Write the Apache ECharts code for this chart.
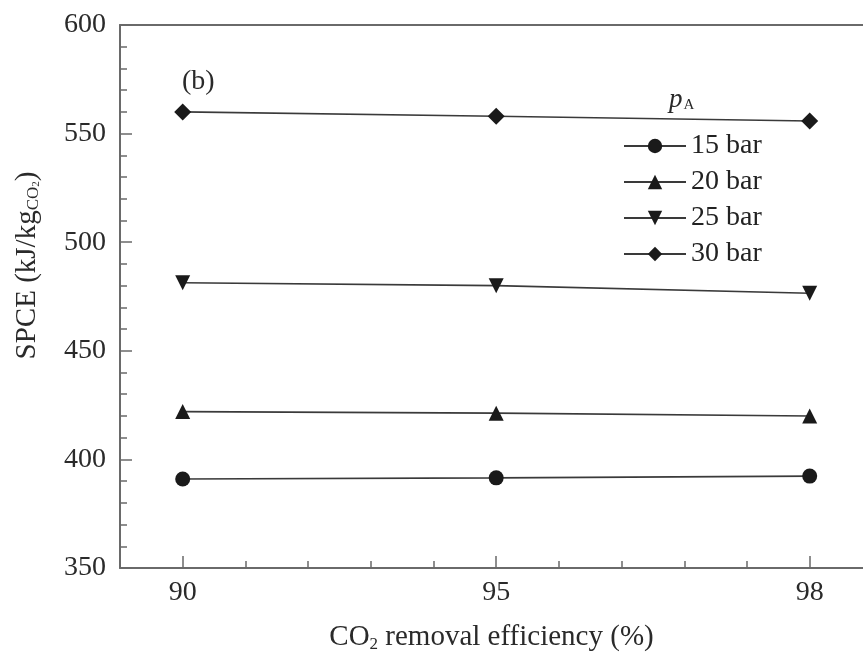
<!DOCTYPE html>
<html>
<head>
<meta charset="utf-8">
<script src="https://cdn.jsdelivr.net/npm/echarts@6/dist/echarts.min.js"></script>
<style>
  html, body { margin: 0; padding: 0; background: #fff; }
  #chart { width: 863px; height: 655px; }
</style>
</head>
<body>
<div id="chart"></div>
<script>
// CO2 removal efficiency categories (%), evenly spaced along the x axis
const efficiency = ['90', '95', '98'];
// SPCE (kJ/kg CO2) for each feed pressure p_A
const spce15 = [391, 391.5, 392.3];
const spce20 = [422, 421.3, 420];
const spce25 = [481.3, 480, 476.5];
const spce30 = [560, 558, 555.8];
const yTicks = [350, 400, 450, 500, 550, 600];

const serif = '"Liberation Serif", "DejaVu Serif", serif';
const ink = '#1a1a1a';
const textInk = '#2a2a2a';
const axisGrey = '#6a6a6a';
const xMin = -0.2, xMax = 2.17;

// minor tick positions: each gap between categories is split into 5
const minorSteps = [];
for (let i = -1; i <= 10; i++) minorSteps.push(i / 5);

function seriesOf(name, values, symbol, size, rotate) {
  return {
    name: name,
    type: 'line',
    xAxisIndex: 0,
    data: values.map((v, i) => [i, v]),
    symbol: symbol,
    symbolSize: size,
    symbolRotate: rotate || 0,
    lineStyle: { color: '#3a3a3a', width: 1.6 },
    itemStyle: { color: ink },
    z: 3
  };
}

const chart = echarts.init(document.getElementById('chart'), null, { renderer: 'canvas' });
chart.setOption({
  animation: false,
  backgroundColor: '#fff',
  grid: { left: 120, top: 25, right: 0, bottom: 87, show: false, outerBoundsMode: 'none' },
  xAxis: [
    {
      type: 'value', min: xMin, max: xMax, position: 'bottom',
      axisLine: { show: true, onZero: false, lineStyle: { color: axisGrey, width: 2 } },
      axisTick: { show: true, inside: true, length: 12, customValues: [0, 1, 2],
                  lineStyle: { color: axisGrey, width: 1.5 } },
      axisLabel: { show: true, customValues: [0, 1, 2], margin: 11,
                   formatter: v => efficiency[Math.round(v)],
                   fontFamily: serif, fontSize: 28, color: textInk },
      splitLine: { show: false },
      name: '{a|CO}{s|2}{a| removal efficiency (%)}',
      nameLocation: 'middle', nameGap: 54,
      nameTextStyle: {
        rich: {
          a: { fontFamily: serif, fontSize: 29, color: textInk },
          s: { fontFamily: serif, fontSize: 17, color: textInk, verticalAlign: 'bottom', padding: [14, 0, 0, 0] }
        }
      }
    },
    {
      type: 'value', min: xMin, max: xMax, position: 'bottom',
      axisLine: { show: false, onZero: false },
      axisTick: { show: true, inside: true, length: 7, customValues: minorSteps,
                  lineStyle: { color: axisGrey, width: 1.5 } },
      axisLabel: { show: false },
      splitLine: { show: false }
    },
    {
      // frame line along the top of the plot
      type: 'value', min: xMin, max: xMax, position: 'top',
      axisLine: { show: true, onZero: false, lineStyle: { color: axisGrey, width: 2 } },
      axisTick: { show: false },
      axisLabel: { show: false },
      splitLine: { show: false }
    }
  ],
  yAxis: {
    type: 'value', min: yTicks[0], max: yTicks[yTicks.length - 1], interval: 50,
    axisLine: { show: true, onZero: false, lineStyle: { color: axisGrey, width: 2 } },
    axisTick: { show: true, inside: true, length: 12, lineStyle: { color: axisGrey, width: 1.5 } },
    minorTick: { show: true, splitNumber: 5, length: 7, lineStyle: { color: axisGrey, width: 1.5 } },
    axisLabel: { margin: 14, fontFamily: serif, fontSize: 28, color: textInk },
    splitLine: { show: false },
    minorSplitLine: { show: false },
    name: '{a|SPCE (kJ/kg}{s|CO}{t|2}{a|)}',
    nameLocation: 'middle', nameRotate: 90, nameGap: 78,
    nameTextStyle: {
      padding: [0, 0, 0, 62],
      rich: {
        a: { fontFamily: serif, fontSize: 29, color: textInk },
        s: { fontFamily: serif, fontSize: 17, color: textInk, verticalAlign: 'bottom', padding: [13, 0, 0, 0] },
        t: { fontFamily: serif, fontSize: 11, color: textInk, verticalAlign: 'bottom', padding: [17, 0, 0, 0] }
      }
    }
  },
  legend: {
    left: 618, top: 127, orient: 'vertical',
    itemWidth: 62, itemHeight: 18, itemGap: 8,
    textStyle: { fontFamily: serif, fontSize: 28, color: '#222' },
    data: ['15 bar', '20 bar', '25 bar', '30 bar']
  },
  graphic: [
    { type: 'text', left: 182, top: 68,
      style: { text: '(b)', fontFamily: serif, fontSize: 28, fill: textInk } },
    { type: 'text', left: 669, top: 86,
      style: {
        text: '{p|p}{a|A}',
        rich: {
          p: { fontFamily: serif, fontStyle: 'italic', fontSize: 27, fill: textInk },
          a: { fontFamily: serif, fontSize: 15, fill: textInk, verticalAlign: 'bottom', padding: [12, 0, 0, 1] }
        }
      } }
  ],
  series: [
    seriesOf('15 bar', spce15, 'circle', 15),
    seriesOf('20 bar', spce20, 'triangle', 15),
    seriesOf('25 bar', spce25, 'triangle', 15, 180),
    seriesOf('30 bar', spce30, 'diamond', 17)
  ]
});
</script>
</body>
</html>
